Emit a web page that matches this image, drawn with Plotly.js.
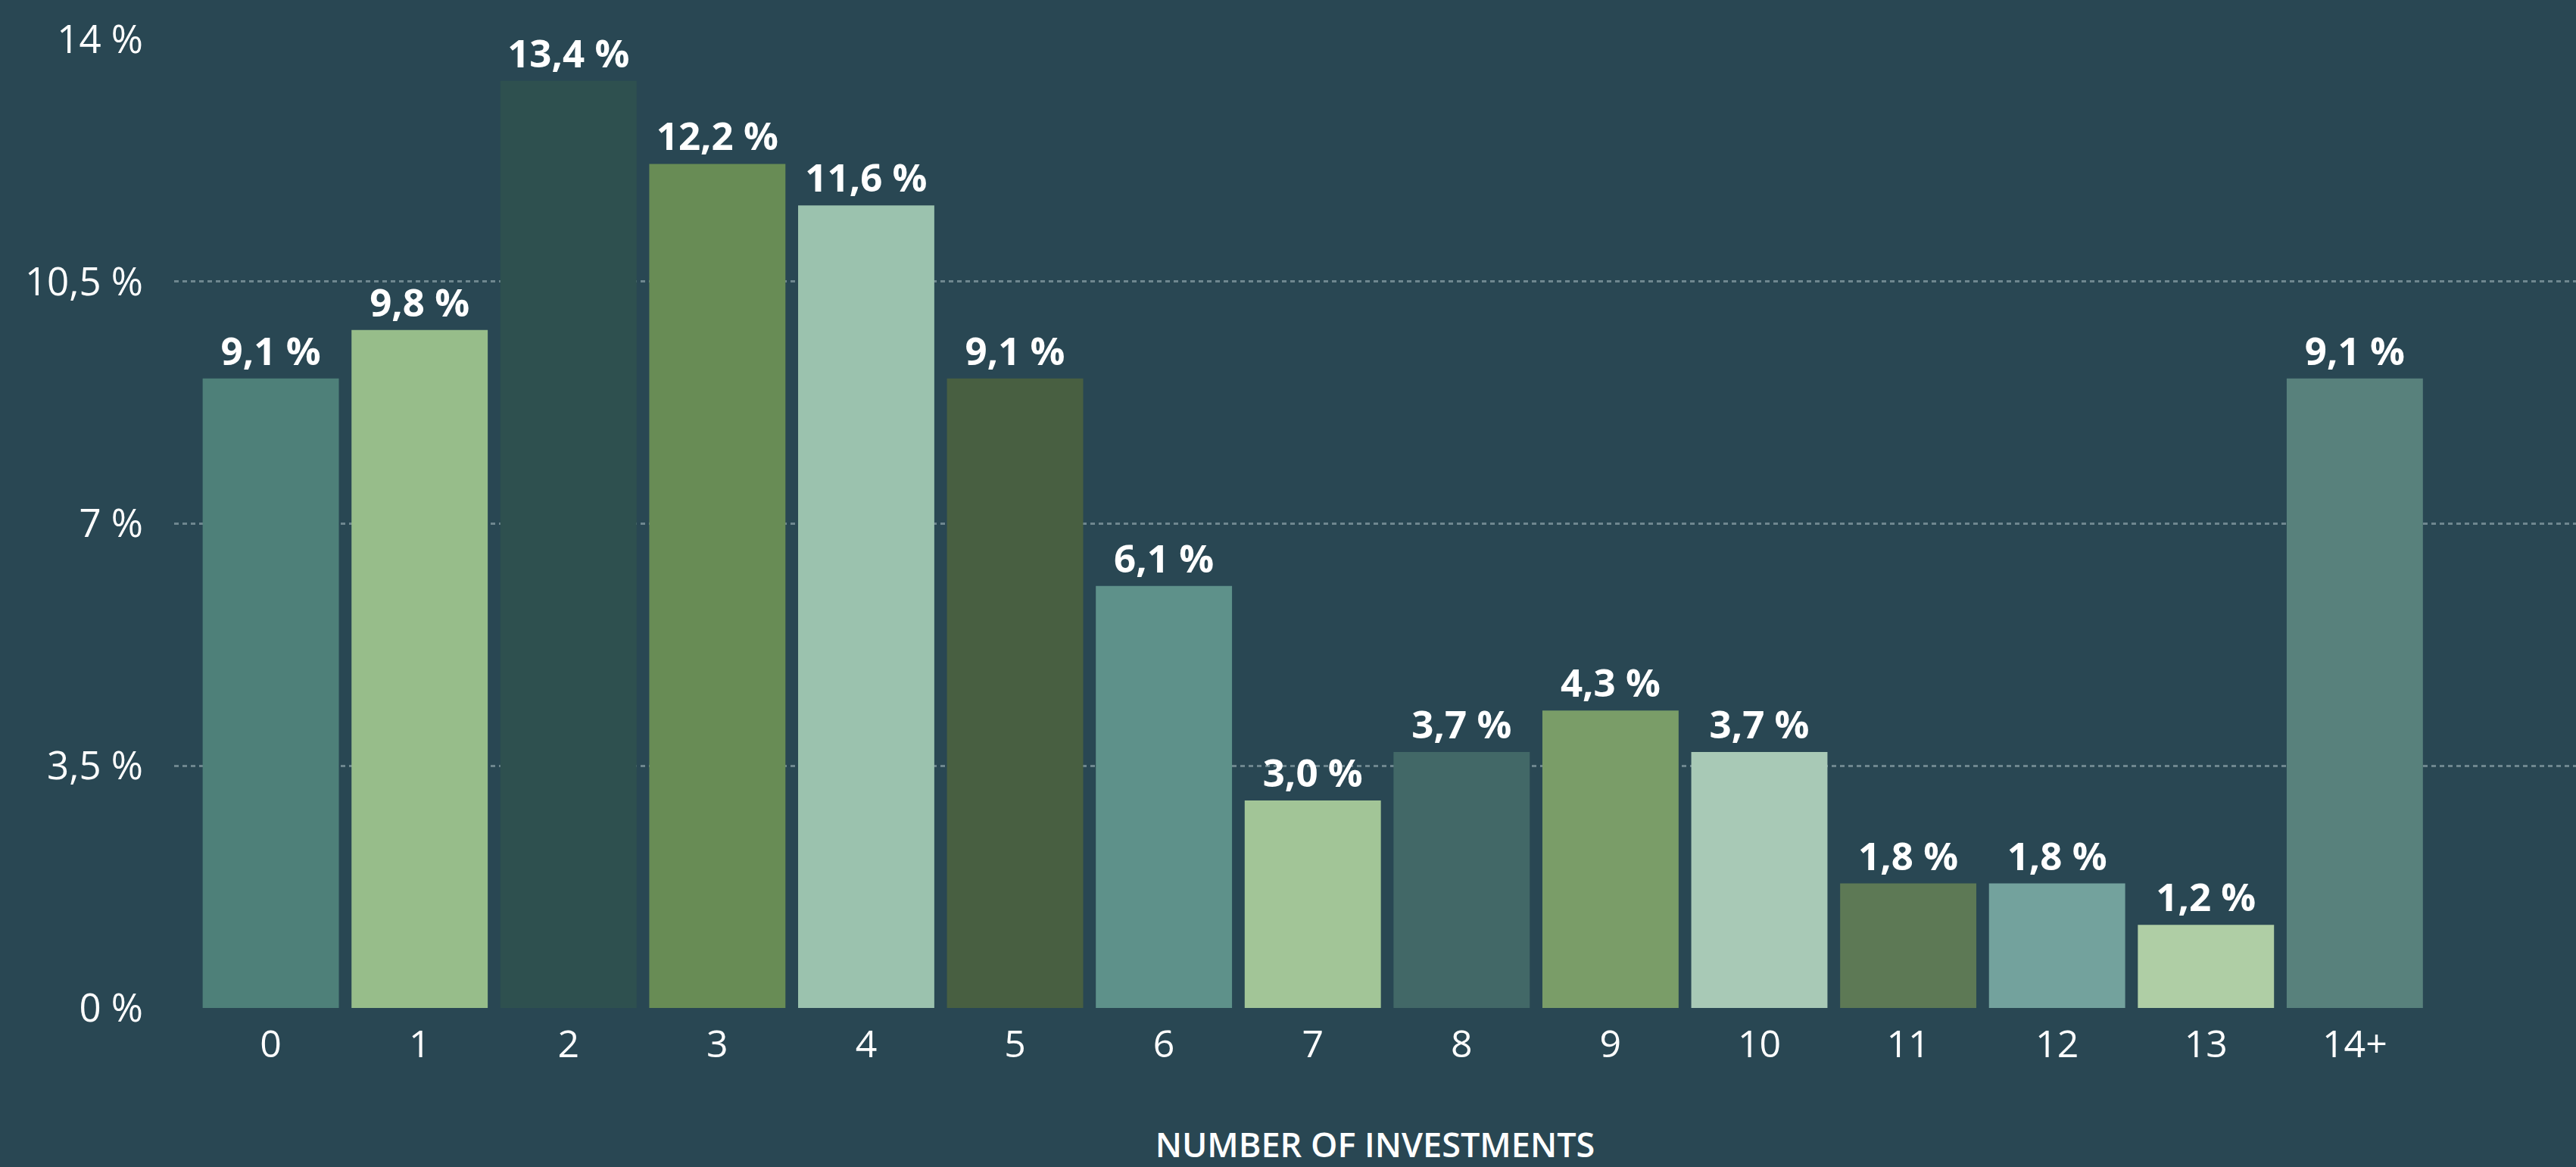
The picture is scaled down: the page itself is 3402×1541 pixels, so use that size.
<!DOCTYPE html>
<html>
<head>
<meta charset="utf-8">
<script src="https://cdn.plot.ly/plotly-3.0.1.min.js"></script>
<style>
  html, body { margin: 0; padding: 0; background: #294753; }
  #plotDiv { width: 3402px; height: 1541px; }
</style>
</head>
<body>
<div id="plotDiv"></div>
<script>
// share of companies by number of investments, in %
const categories = ["0", "1", "2", "3", "4", "5", "6", "7", "8", "9", "10", "11", "12", "13", "14+"];
const shares = [9.1, 9.8, 13.4, 12.2, 11.6, 9.1, 6.1, 3.0, 3.7, 4.3, 3.7, 1.8, 1.8, 1.2, 9.1];
const barColors = [
  "#4e8079", "#97bd8a", "#2e504f", "#688c55", "#9bc2ae",
  "#485f41", "#5e918a", "#a2c597", "#426867", "#7a9d68",
  "#a8c9b6", "#5d7955", "#73a29d", "#afcea5", "#58817c"
];

const data = [
  {
    x: categories,
    y: shares,
    type: "bar",
    marker: { color: barColors },
    texttemplate: "%{y:.1f} %",
    textposition: "outside",
    cliponaxis: false,
    textfont: { family: "Open Sans", size: 51, color: "#ffffff", weight: 700 },
    hoverinfo: "none"
  }
];

const layout = {
  width: 3402,
  height: 1541,
  paper_bgcolor: "#294753",
  plot_bgcolor: "#294753",
  separators: ", ",
  margin: { l: 230, r: 0, t: 52, b: 210 },
  bargap: 0.085,
  showlegend: false,
  font: { family: "Open Sans", color: "#ffffff", size: 48 },
  xaxis: {
    type: "category",
    range: [-0.649, 15.486],
    showgrid: false,
    zeroline: false,
    showline: false,
    ticks: "",
    ticklabelstandoff: 14,
    tickfont: { family: "Open Sans", size: 50, color: "#ffffff" },
    title: {
      text: "NUMBER OF INVESTMENTS",
      standoff: 90,
      font: { family: "Open Sans", size: 45, color: "#ffffff", weight: 600 }
    }
  },
  yaxis: {
    range: [0, 14],
    dtick: 3.5,
    ticksuffix: " %",
    showgrid: true,
    gridcolor: "rgba(140,162,170,0.7)",
    gridwidth: 3,
    griddash: "6px,5px",
    zeroline: false,
    showline: false,
    ticks: "",
    ticklabelstandoff: 40,
    tickfont: { family: "Open Sans", size: 51, color: "#ffffff" }
  }
};

Plotly.newPlot("plotDiv", data, layout, { displayModeBar: false, staticPlot: true });
</script>
</body>
</html>
